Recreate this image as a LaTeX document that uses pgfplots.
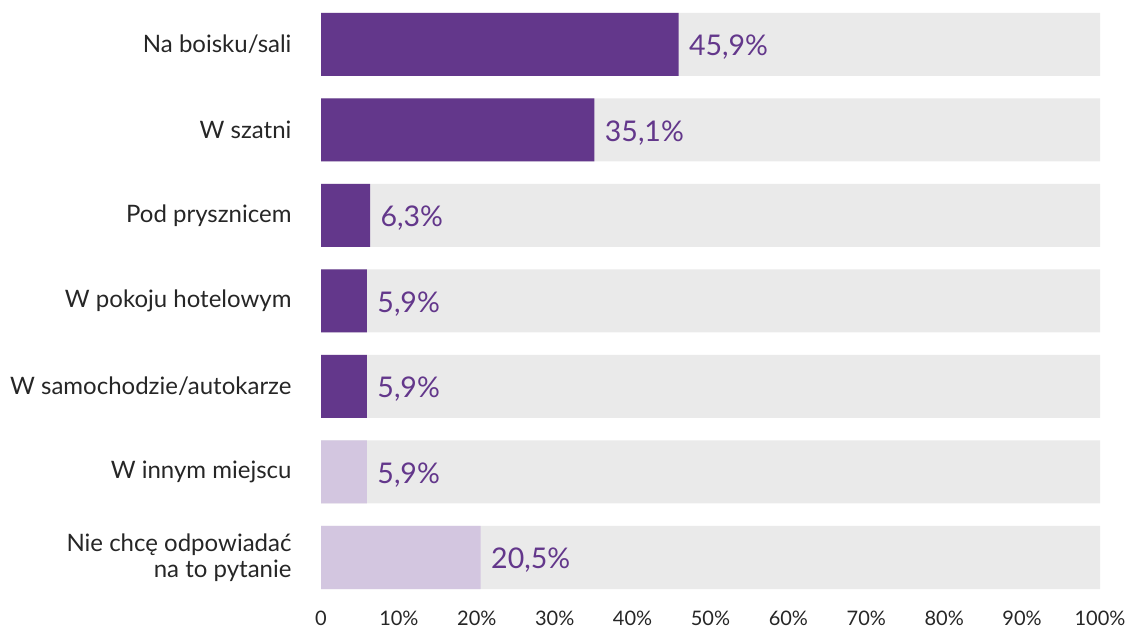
\documentclass[border=0pt]{standalone}
\usepackage{pgfplots}
\pgfplotsset{compat=1.18}
\usepackage{fontspec}
\setmainfont{Lato}
\definecolor{dpurple}{HTML}{63378B}
\definecolor{lpurple}{HTML}{D3C6E0}
\definecolor{bggrey}{HTML}{EAEAEA}
\begin{document}
\begin{tikzpicture}[x=1pt,y=1pt]
\useasboundingbox (0,0) rectangle (1127,629);
\begin{axis}[
  at={(321pt,28.75pt)}, anchor=south west,
  scale only axis, width=779pt, height=598.5pt,
  xmin=0, xmax=100, ymin=-0.5, ymax=6.5,
  axis line style={draw=none}, major tick length=0pt,
  xtick={0,10,...,100},
  xticklabels={0,10\%,20\%,30\%,40\%,50\%,60\%,70\%,80\%,90\%,100\%},
  xticklabel style={font=\fontsize{20}{22}\selectfont, text=black!85, anchor=base, yshift=-25pt},
  ytick={0,...,6},
  yticklabels={{Nie chcę odpowiadać\\na to pytanie},W innym miejscu,W samochodzie/autokarze,W pokoju hotelowym,Pod prysznicem,W szatni,Na boisku/sali},
  yticklabel style={font=\fontsize{24}{26}\selectfont, text=black!85, align=right, xshift=-26pt},
  /pgf/number format/assume math mode=true,
  clip=false,
]
\addplot[xbar, bar width=63pt, bar shift=0pt, fill=bggrey, draw=none] coordinates {(100,0) (100,1) (100,2) (100,3) (100,4) (100,5) (100,6)};
\addplot[xbar, bar width=63pt, bar shift=0pt, fill=dpurple, draw=none,
  point meta=explicit symbolic,
  nodes near coords, nodes near coords align={anchor=west},
  every node near coord/.style={font=\fontsize{28.5}{30}\selectfont, text=dpurple, xshift=7pt, yshift=-3pt}]
  coordinates {(45.9,6) [45,9\%] (35.1,5) [35,1\%] (6.3,4) [6,3\%] (5.9,3) [5,9\%] (5.9,2) [5,9\%]};
\addplot[xbar, bar width=63pt, bar shift=0pt, fill=lpurple, draw=none,
  point meta=explicit symbolic,
  nodes near coords, nodes near coords align={anchor=west},
  every node near coord/.style={font=\fontsize{28.5}{30}\selectfont, text=dpurple, xshift=7pt, yshift=-3pt}]
  coordinates {(5.9,1) [5,9\%] (20.5,0) [20,5\%]};
\end{axis}
\end{tikzpicture}
\end{document}
